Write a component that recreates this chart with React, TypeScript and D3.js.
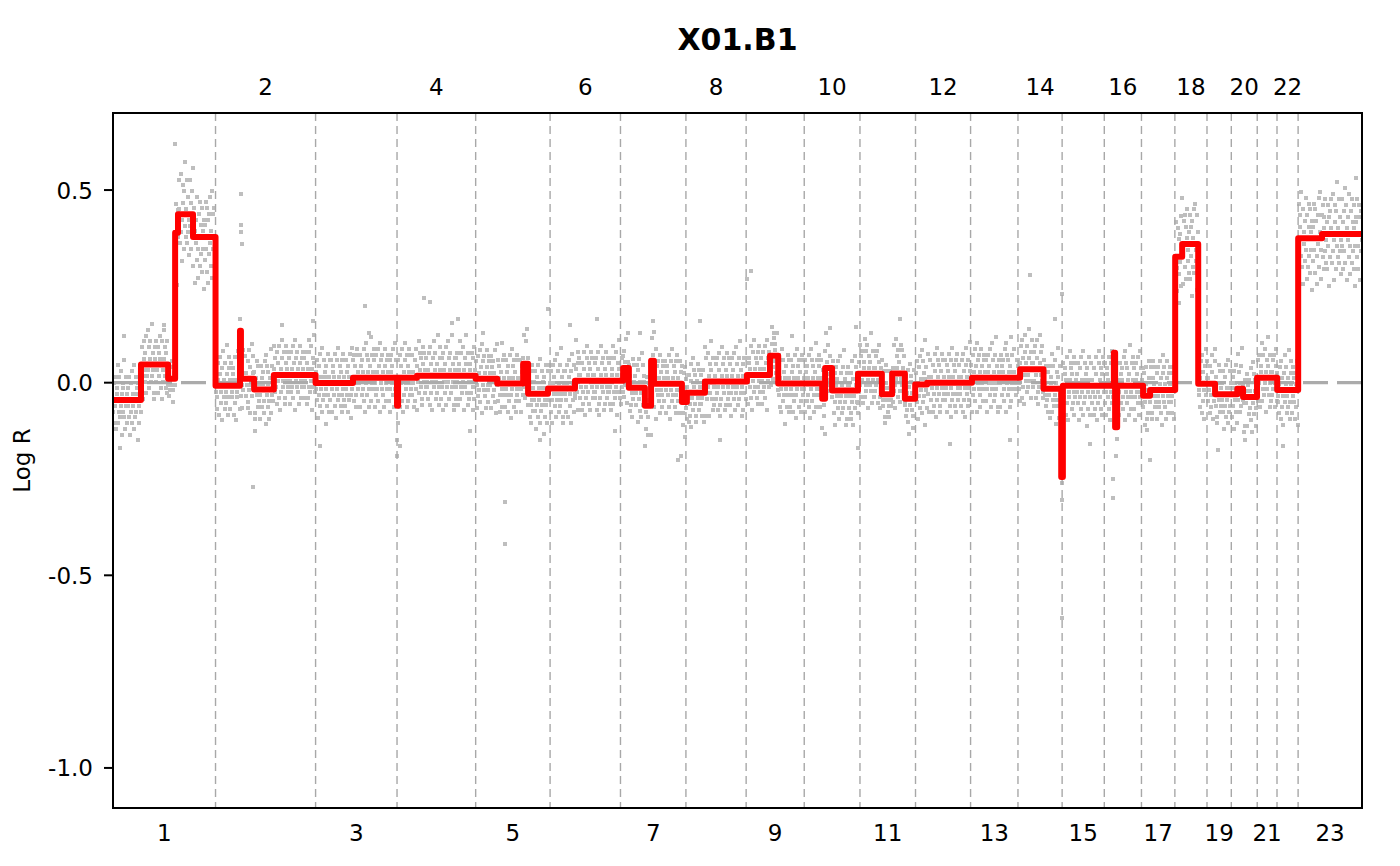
import React from 'react';
import * as d3 from 'd3';

const title = 'X01.B1';
const yLabel = 'Log R';

const chromNames = ['1','2','3','4','5','6','7','8','9','10','11','12','13','14','15','16','17','18','19','20','21','22','23'];
const chromLengths = [249.25,243.2,198.0,191.15,180.9,171.1,159.1,146.4,141.2,135.5,135.0,133.85,115.2,107.35,102.5,90.35,81.2,78.1,59.1,63.0,48.1,51.3,155.3];

// segment starts in genome-wide Mb and their log R values
const segStart = [0,68,134,151,158,194.5,249.25,308.7,311,343,391,492.45,583.4,690.45,693,739,881.6,934,997,1009,1057.5,1123,1240,1254,1293,1308,1315,1383,1395,1439,1541,1597,1617,1724,1731,1748,1811,1869,1894,1925,1950,1979,2088,2205,2262,2305,2309,2433,2436,2441,2504,2521,2582,2599,2638,2679,2733,2747,2781,2830,2881,2939];
const segValue = [-0.045,0.047,0.010,0.389,0.437,0.378,-0.008,0.135,0.010,-0.018,0.020,-0.001,0.013,-0.06,0.013,0.018,0.010,-0.002,0.049,-0.029,-0.015,0.005,0.038,-0.013,-0.06,0.057,-0.003,-0.05,-0.026,0.003,0.02,0.07,-0.002,-0.042,0.038,-0.02,0.023,-0.03,0.024,-0.042,-0.005,0.0,0.013,0.035,-0.016,-0.245,-0.008,0.078,-0.116,-0.008,-0.034,-0.019,0.327,0.36,-0.003,-0.03,-0.016,-0.037,0.013,-0.019,0.375,0.386];

// probe deviations from the segment level, one letter per probe ('m' = 0, step 0.015)
const offsetUnit = 0.015;
const probeOffsets = [
  'kpilqmhoniskqjmrlgnpkotjmhqlinoljqmgpkrinlhsmjqkonfplimrkmipkgqnlojrhmkslpinqjmtkolghpnjqmlhpoknrimgqljsnkpmiohqklnjmkomlpkinmlgrkpdqinshmtjlerogqkvinmhsjpflksgoqjuhmrenlpitkfqmhsjogrnkdpoiskgrmpejqlthnufkqmrig',
  'plkinqmhrojlgpmsknqiljotmkhprnimqlkophnjrmgklsnpqiomjhlrkqnmqjnlmhpikrogmljsqnkpihomrlqjnklhqmojpnkirmgslqjpnkhomtilqknrnjpkmqhlorigmjnsplkqmhiornljqkmphlqjknriomgslpqknjhmrolikpqnkpilqmhoniskqjmrlgnpkotjm',
  'oljqmgpkrinlhsmjqkonfplimrkhnqjqmlhpoknrimgqljsnkpmiohqkrljnimqlkophnjrmgklsnpqiomjhlrkqnmlhqmojpnkirmgslqjpnkhomtilqknrmphlqjknriomgslpqknjhmrolikpqnmipkgqnlojrhmkslpi',
  'njpkmqhlorigmjnsplkqmhiornljqkqjnlmhpikrogmljsqnkpihomrlqjnkplkinqmhrojlgpmsknqiljotmkhprnmipkgqnlojrhmkslpinqjmtkolghpnkpilqmhoniskqjmrlgnpkotjmhqlinoljqmgpkrinl',
  'mphlqjknriomgslpqknjhmrolikpqnlhqmojpnkirmgslqjpnkhomtilqknrimqlkophnjrmgklsnpqiomjhlrkqnmjqmlhpoknrimgqljsnkpmiohqkrljnoljqmgpkrinlhsmjqkonfplimrkhnqmkqn',
  'mipkgqnlojrhmkslpinqjmtkolghpnplkinqmhrojlgpmsknqiljotmkhprnqjnlmhpikrogmljsqnkpihomrlqjnknjpkmqhlorigmjnsplkqmhiornljqkkpilqmhoniskqjmrlgnpkotjm',
  'imqlkophnjrmgklsnpqiomjhlrkqnmoljqmgpkrinlhsmjqkonfplimrkhnqmphlqjknriomgslpqknjhmrolikpqnjqmlhpoknrimgqljsnkpmiohqkrljnlhqmojpnkirmgsl',
  'qjnlmhpikrogmljsqnkpihomrlqjnkkpilqmhoniskqjmrlgnpkotjmhqlinnjpkmqhlorigmjnsplkqmhiornljqkmipkgqnlojrhmkslpinqjmtkolghpnqknmj',
  'jqmlhpoknrimgqljsnkpmiohqkrljnmphlqjknriomgslpqknjhmrolikpqnoljqmgpkrinlhsmjqkonfplimrkhnqimqlkophnjrmgklsnpqiomjhlrkqnm',
  'lhqmojpnkirmgslqjpnkhomtilqknrplkinqmhrojlgpmsknqiljotmkhprnmipkgqnlojrhmkslpinqjmtkolghpnqjnlmhpikrogmljsqnkpihomr',
  'kpilqmhoniskqjmrlgnpkotjmhqlinnjpkmqhlorigmjnsplkqmhiornljqkimqlkophnjrmgklsnpqiomjhlrkqnmmphlqjknriomgslpqknjhmrol',
  'oljqmgpkrinlhsmjqkonfplimrkhnqqjnlmhpikrogmljsqnkpihomrlqjnkjqmlhpoknrimgqljsnkpmiohqkrljnplkinqmhrojlgpmsknqiljot',
  'mphlqjknriomgslpqknjhmrolikpqnmipkgqnlojrhmkslpinqjmtkolghpnlhqmojpnkirmgslqjpnkhomtilqknrnmkjlpmo',
  'plkinqmhrojlgpmsknqiljotmkhprnnjpkmqhlorigmjnsplkqmhiornljqkkpilqmhoniskqjmrlgnpkotjmhqlinl',
  'imqlkophnjrmgklsnpqiomjhlrkqnmoljqmgpkrinlhsmjqkonfplimrkhnqqjnlmhpikrogmljsqnkpihomrlq',
  'jqmlhpoknrimgqljsnkpmiohqkrljnlhqmojpnkirmgslqjpnkhomtilqknrmipkgqnlojrhmkslp',
  'njpkmqhlorigmjnsplkqmhiornljqkmphlqjknriomgslpqknjhmrolikpqnkpilqmhon',
  'oiskgrmpejqlthnufkqmrigpnsjlhogrkpdqinshmtjlerogplkinqmhrojlgpmskn',
  'qjnlmhpikrogmljsqnkpihomrlqjnkoljqmgpkrinlhsmjqkon',
  'mipkgqnlojrhmkslpinqjmtkolghpnlhqmojpnkirmgslqjpnkhom',
  'kpilqmhoniskqjmrlgnpkotjmhqlinnjpkmqhlori',
  'plkinqmhrojlgpmsknqiljotmkhprnimqlkophnjrmg',
  'ksgoqjuhmrenlpitkfqmhsjogrnkdpoiskgrmpejqlthnufkqmrigpnsjlhogrkpdqinshmtjlerogqkvinmhsjpflksgoqjuhmrenlpitkfqmhsjogrnkdpoiskgrmpejql',
];

// isolated probes far from their segment (genome Mb, log R)
const outlierPos = [150.7,124,27,17,311,311.5,312,312.5,340,953,954,770,755,1373,1381,1313,1540,1550,1811,2229,2306,2307,2308,2431,2432,3022,690,691,1057,
  486,411,622,613,824,839,899,1111,1177,1281,1427,1651,1806,1913,1974,2290,
  345,503,698,868,1038,1220,1476,2035,2181,2375,2521,2686,2752,2844];
const outlierVal = [0.62,0.15,0.12,-0.17,0.49,0.41,0.39,0.36,-0.27,-0.31,-0.42,0.21,0.22,-0.2,-0.19,0.16,0.27,0.29,-0.17,0.28,0.23,-0.215,-0.61,-0.25,-0.3,0.53,-0.19,-0.15,0.19,
  0.16,0.15,0.13,0.2,0.155,0.165,0.13,0.15,0.165,0.13,0.16,0.12,0.145,0.165,0.11,0.165,
  -0.125,-0.165,-0.165,-0.125,-0.15,-0.125,-0.15,-0.16,-0.15,-0.16,-0.2,-0.175,-0.15,-0.165];

const yTicks = [0.5, 0.0, -0.5, -1.0];

export default function App() {
  const W = 1400, H = 866;
  const L = 113, R = 1362, T = 113, B = 808;
  const cumStart = [0, ...Array.from(d3.cumsum(chromLengths))];
  const genomeEnd = cumStart[cumStart.length - 1];
  const x = d3.scaleLinear().domain([0, genomeEnd]).range([L, R]);
  const y = d3.scaleLinear().domain([-1.104, 0.7]).range([B, T]);

  const segAt = (p: number) => segValue[Math.max(0, d3.bisectRight(segStart, p) - 1)];

  const points: { p: number; v: number }[] = [];
  probeOffsets.forEach((s, c) => {
    const n = s.length;
    for (let i = 0; i < n; i++) {
      const p = cumStart[c] + ((i + 0.5) * chromLengths[c]) / n;
      points.push({ p, v: segAt(p) + (s.charCodeAt(i) - 109) * offsetUnit });
    }
  });
  outlierPos.forEach((p, i) => points.push({ p, v: outlierVal[i] }));

  const stepData = segStart.map((s, i) => ({ p: s, v: segValue[i] }));
  stepData.push({ p: genomeEnd, v: segValue[segValue.length - 1] });
  const line = d3
    .line<{ p: number; v: number }>()
    .x((d) => x(d.p))
    .y((d) => y(d.v))
    .curve(d3.curveStepAfter);

  const font = 'DejaVu Sans';
  const ps = 4;

  return (
    <svg width={W} height={H} style={{ position: 'absolute', left: 0, top: 0, background: '#fff' }} fontFamily={font}>
      <rect x={0} y={0} width={W} height={H} fill="#fff" />
      <defs>
        <clipPath id="plotClip">
          <rect x={L} y={T} width={R - L} height={B - T} />
        </clipPath>
      </defs>
      <g clipPath="url(#plotClip)">
        <g shapeRendering="crispEdges">
          {points.map((d, i) => (
            <rect key={i} x={Math.round(x(d.p) - ps / 2)} y={Math.round(y(d.v) - ps / 2)} width={ps} height={ps} fill="#bebebe" />
          ))}
        </g>
        <line x1={L} x2={R} y1={y(0)} y2={y(0)} stroke="#ababab" strokeWidth={3.2} strokeDasharray="25 9" />
        {cumStart.slice(1, chromNames.length).map((c, i) => (
          <line key={i} x1={x(c)} x2={x(c)} y1={T} y2={B} stroke="#a8a8a8" strokeWidth={1.4} strokeDasharray="8 5" />
        ))}
        <path d={line(stepData) || ''} fill="none" stroke="#ff0000" strokeWidth={6} strokeLinejoin="round" strokeLinecap="round" />
      </g>
      <rect x={L} y={T} width={R - L} height={B - T} fill="none" stroke="#000" strokeWidth={2} />
      {yTicks.map((t) => (
        <g key={t}>
          <line x1={L - 9} x2={L} y1={y(t)} y2={y(t)} stroke="#000" strokeWidth={2} />
          <text x={L - 20} y={y(t) + 8.5} textAnchor="end" fontSize={23}>
            {t.toFixed(1)}
          </text>
        </g>
      ))}
      {chromNames.map((name, i) => {
        const cx = x(cumStart[i] + chromLengths[i] / 2);
        const odd = i % 2 === 0;
        return (
          <text key={name} x={cx} y={odd ? 841 : 95} textAnchor="middle" fontSize={23}>
            {name}
          </text>
        );
      })}
      <text x={(L + R) / 2} y={50} textAnchor="middle" fontSize={30} fontWeight="bold">
        {title}
      </text>
      <text transform={`translate(30, ${(T + B) / 2}) rotate(-90)`} textAnchor="middle" fontSize={23}>
        {yLabel}
      </text>
    </svg>
  );
}
